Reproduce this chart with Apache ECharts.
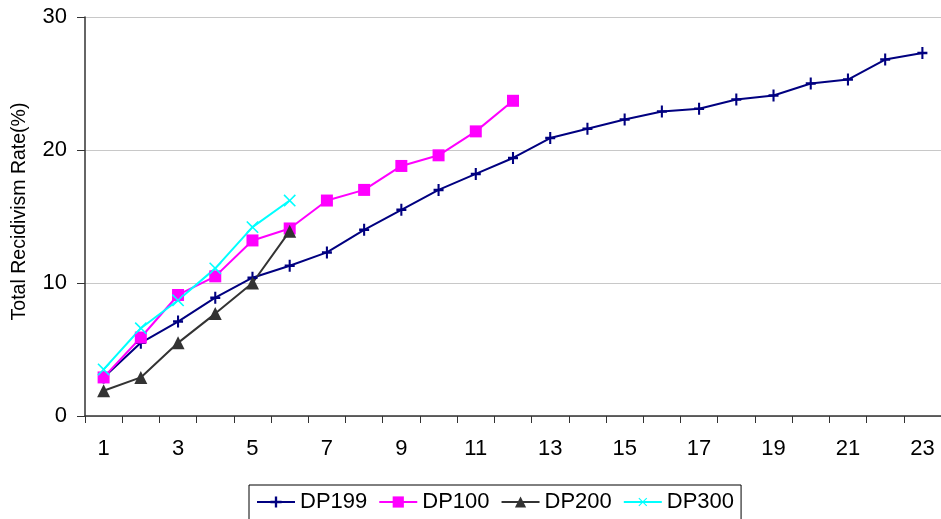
<!DOCTYPE html>
<html>
<head>
<meta charset="utf-8">
<script src="https://cdn.jsdelivr.net/npm/echarts@6/dist/echarts.min.js"></script>
<style>
html,body{margin:0;padding:0;background:#fff;}
#chart{width:941px;height:519px;}
</style>
</head>
<body>
<div id="chart"></div>
<script>
var categories = ['1','2','3','4','5','6','7','8','9','10','11','12','13','14','15','16','17','18','19','20','21','22','23'];
var dp199 = [2.9, 5.5, 7.1, 8.9, 10.4, 11.3, 12.3, 14.0, 15.5, 17.0, 18.2, 19.4, 20.9, 21.6, 22.3, 22.9, 23.1, 23.8, 24.1, 25.0, 25.3, 26.8, 27.3];
var dp100 = [2.9, 5.9, 9.1, 10.5, 13.2, 14.1, 16.2, 17.0, 18.8, 19.6, 21.4, 23.7];
var dp200 = [1.9, 2.9, 5.5, 7.7, 10.0, 13.9];
var dp300 = [3.5, 6.6, 8.7, 11.1, 14.2, 16.2];
var yTicks = [0, 10, 20, 30];

var plusPath = 'path://M-1.25,-6L1.25,-6L1.25,-1.25L6,-1.25L6,1.25L1.25,1.25L1.25,6L-1.25,6L-1.25,1.25L-6,1.25L-6,-1.25L-1.25,-1.25Z';
var thinCross = 'path://M-0.6,-6L0.6,-6L0.6,-0.6L6,-0.6L6,0.6L0.6,0.6L0.6,6L-0.6,6L-0.6,0.6L-6,0.6L-6,-0.6L-0.6,-0.6Z';
var font = 'Arial, "Liberation Sans", sans-serif';

var chart = echarts.init(document.getElementById('chart'), null, {renderer:'canvas'});
chart.setOption({
  animation: false,
  backgroundColor: '#fff',
  grid: {left: 85, top: 17, right: 0, bottom: 103, containLabel: false},
  legend: {
    left: 249, top: 485,
    padding: [6, 7, 12, 7],
    borderColor: '#000', borderWidth: 1,
    backgroundColor: '#fff',
    itemWidth: 38, itemHeight: 14, itemGap: 11,
    textStyle: {fontFamily: font, fontSize: 22, color: '#000'},
    data: ['DP199','DP100','DP200','DP300']
  },
  xAxis: {
    type: 'category',
    data: categories,
    boundaryGap: true,
    axisLine: {lineStyle: {color: '#333', width: 1.5}},
    axisTick: {show: true, interval: 0, length: 7, lineStyle: {color: '#333'}},
    axisLabel: {interval: 1, margin: 22, fontFamily: font, fontSize: 22, color: '#000'},
    splitLine: {show: false}
  },
  yAxis: {
    type: 'value',
    min: yTicks[0], max: yTicks[yTicks.length-1], interval: 10,
    name: 'Total Recidivism Rate(%)',
    nameLocation: 'middle',
    nameGap: 55,
    nameTextStyle: {fontFamily: font, fontSize: 19.5, color: '#000', padding: [0, 0, 0, 10]},
    axisLine: {show: true, lineStyle: {color: '#333', width: 1.5}},
    axisTick: {show: true, length: 8, lineStyle: {color: '#333'}},
    axisLabel: {margin: 18, fontFamily: font, fontSize: 22, color: '#000'},
    splitLine: {show: true, lineStyle: {color: '#c8c8c8', width: 1}}
  },
  series: [
    {
      name: 'DP199', type: 'line', data: dp199,
      symbol: plusPath, symbolSize: [10, 12],
      lineStyle: {color: '#000080', width: 2},
      itemStyle: {color: '#000080'}
    },
    {
      name: 'DP100', type: 'line', data: dp100,
      symbol: 'rect', symbolSize: 12,
      lineStyle: {color: '#ff00ff', width: 2},
      itemStyle: {color: '#ff00ff'}
    },
    {
      name: 'DP200', type: 'line', data: dp200,
      symbol: 'triangle', symbolSize: 13,
      lineStyle: {color: '#333333', width: 2},
      itemStyle: {color: '#333333'}
    },
    {
      name: 'DP300', type: 'line', data: dp300,
      symbol: thinCross, symbolSize: 16, symbolRotate: 45,
      lineStyle: {color: '#00ffff', width: 2},
      itemStyle: {color: '#00ffff'}
    }
  ]
});
</script>
</body>
</html>
